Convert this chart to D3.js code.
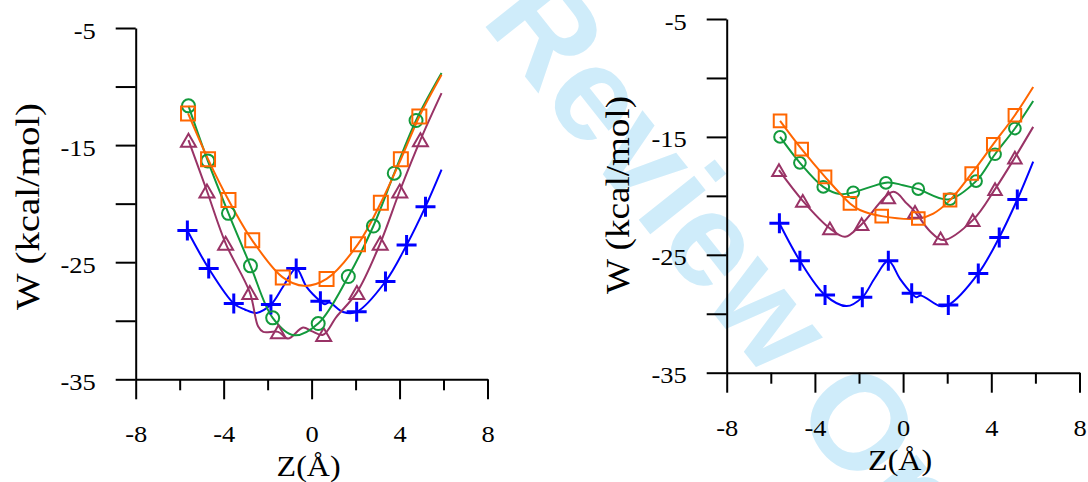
<!DOCTYPE html>
<html><head><meta charset="utf-8">
<script src="https://cdn.jsdelivr.net/npm/d3@7"></script>
<style>html,body{margin:0;padding:0;background:#fff;} svg{display:block;}</style>
</head><body>
<svg id="c" width="1088" height="482"></svg>
<script>
// ---------- data ----------
const zTicks = [-8, -4, 0, 4, 8];
const zMinorTicks = [-6, -2, 2, 6];
const wTicks = [-5, -10, -15, -20, -25, -30, -35];
const wTickLabels = [-5, -15, -25, -35];
const xTitle = "Z(Å)";
const yTitle = "W (kcal/mol)";
const watermark = "Review Only";

// left panel: markers [z, W]
const leftBlueMarkers = [[-5.65,-22.3],[-4.68,-25.53],[-3.54,-28.52],[-1.85,-28.62],[-0.70,-25.53],[0.40,-28.33],[2.05,-29.24],[3.36,-26.65],[4.32,-23.54],[5.18,-20.26]];
const leftGreenMarkers = [[-5.6,-11.65],[-4.72,-16.35],[-3.78,-20.83],[-2.78,-25.31],[-1.77,-29.75],[0.3,-30.24],[1.67,-26.22],[2.81,-21.91],[3.76,-17.4],[4.75,-12.9]];
const leftOrangeMarkers = [[-5.62,-12.3],[-4.71,-16.2],[-3.78,-19.69],[-2.70,-23.13],[-1.31,-26.3],[0.68,-26.43],[2.11,-23.46],[3.15,-19.92],[4.06,-16.21],[4.90,-12.56]];
const leftPurpleMarkers = [[-5.6,-14.58],[-4.76,-18.92],[-3.91,-23.39],[-2.81,-27.58],[-1.51,-30.95],[0.55,-31.18],[2.06,-27.58],[3.12,-23.39],[4.01,-18.92],[4.95,-14.55]];
// left panel: curves [z, W]
const leftBlueCurve = [[-5.65,-22.3],[-4.68,-25.53],[-3.54,-28.52],[-3.04,-29.04],[-2.5,-29.33],[-1.85,-28.62],[-1.3,-27.1],[-0.70,-25.53],[-0.23,-27.1],[0.40,-28.33],[0.6,-28.6],[0.8,-28.45],[1.43,-29.25],[2.05,-29.24],[3.36,-26.65],[4.32,-23.54],[5.18,-20.26],[5.91,-17.1]];
const leftGreenCurve = [[-5.6,-11.65],[-4.72,-16.35],[-3.78,-20.83],[-2.78,-25.31],[-1.77,-29.75],[-0.8,-31.24],[0.3,-30.24],[1.67,-26.22],[2.81,-21.91],[3.76,-17.4],[4.75,-12.9],[5.91,-8.85]];
const leftOrangeCurve = [[-5.62,-12.3],[-4.71,-16.2],[-3.78,-19.69],[-2.70,-23.13],[-1.31,-26.3],[-0.35,-27.02],[0.68,-26.43],[2.11,-23.46],[3.15,-19.92],[4.06,-16.21],[4.90,-12.56],[5.91,-9.0]];
const leftPurpleCurve = [[-5.6,-14.58],[-4.76,-18.92],[-3.91,-23.39],[-2.81,-27.58],[-2.43,-30.5],[-2.2,-30.95],[-1.52,-30.95],[-1.07,-31.52],[-0.39,-30.58],[0.0,-30.89],[0.52,-31.2],[1.13,-29.67],[2.06,-27.58],[3.12,-23.39],[4.01,-18.92],[4.95,-14.55],[5.91,-10.56]];

// right panel: markers [z, W]
const rightBlueMarkers = [[-5.61,-22.33],[-4.68,-25.51],[-3.54,-28.42],[-1.85,-28.61],[-0.67,-25.51],[0.39,-28.27],[2.05,-29.26],[3.41,-26.58],[4.36,-23.53],[5.18,-20.31]];
const rightGreenMarkers = [[-5.58,-15.0],[-4.68,-17.2],[-3.62,-19.24],[-2.26,-19.71],[-0.78,-18.90],[0.69,-19.43],[2.13,-20.28],[3.31,-18.75],[4.17,-16.47],[5.07,-14.29]];
const rightOrangeMarkers = [[-5.58,-13.64],[-4.60,-16.04],[-3.54,-18.39],[-2.41,-20.64],[-0.97,-21.72],[0.69,-21.92],[2.13,-20.36],[3.11,-18.10],[4.09,-15.62],[5.07,-13.16]];
const rightPurpleMarkers = [[-5.63,-17.82],[-4.55,-20.42],[-3.32,-22.76],[-1.88,-22.4],[-0.67,-20.14],[0.54,-21.36],[1.70,-23.61],[3.16,-22.06],[4.17,-19.43],[5.07,-16.75]];
// right panel: curves [z, W]
const rightBlueCurve = [[-5.61,-22.33],[-4.68,-25.51],[-3.54,-28.42],[-2.56,-29.35],[-1.85,-28.61],[-1.28,-26.97],[-0.67,-25.51],[-0.14,-27.04],[0.39,-28.27],[0.6,-28.6],[0.8,-28.45],[1.67,-29.35],[2.05,-29.26],[3.41,-26.58],[4.36,-23.53],[5.18,-20.31],[5.9,-17.09]];
const rightGreenCurve = [[-5.58,-15.0],[-4.68,-17.2],[-3.62,-19.24],[-2.86,-19.85],[-2.26,-19.71],[-0.7,-18.86],[0.0,-19.1],[0.69,-19.43],[2.05,-20.3],[3.31,-18.75],[4.17,-16.47],[5.07,-14.29],[5.9,-11.95]];
const rightOrangeCurve = [[-5.58,-13.64],[-4.60,-16.04],[-3.54,-18.39],[-2.41,-20.64],[-1.96,-21.2],[-0.97,-21.72],[0.69,-21.92],[1.37,-21.5],[2.13,-20.36],[3.11,-18.10],[4.09,-15.62],[5.07,-13.16],[5.9,-10.76]];
const rightPurpleCurve = [[-5.63,-17.82],[-4.55,-20.42],[-3.32,-22.76],[-2.63,-23.47],[-1.88,-22.4],[-0.44,-19.66],[0.16,-20.64],[0.54,-21.36],[1.22,-23.0],[1.82,-23.75],[3.16,-22.06],[4.17,-19.43],[5.07,-16.75],[5.9,-14.15]];

// ---------- style / layout ----------
const colors = {blue:"#0000ff", green:"#129a3c", orange:"#ff6600", purple:"#993366"};
const serif = "'Liberation Serif','Times New Roman',Times,serif";
const svg = d3.select("#c");

// watermark (behind everything)
svg.append("text")
  .attr("transform", "translate(480,20) rotate(51.5)")
  .attr("font-family", "'Liberation Sans',Arial,sans-serif")
  .attr("font-weight", 700)
  .attr("font-size", 134)
  .attr("fill", "#cfecfa")
  .attr("text-anchor", "start")
  .text(watermark);

function stretch(sel, k) {
  sel.each(function() {
    const n = this.getComputedTextLength();
    d3.select(this).attr("textLength", n * k).attr("lengthAdjust", "spacingAndGlyphs");
  });
}

function drawPanel(cfg, series) {
  const x = d3.scaleLinear().domain([-8, 8]).range([cfg.x0, cfg.x1]);
  const y = d3.scaleLinear().domain([-5, -35]).range([cfg.y0, cfg.y1]);
  const g = svg.append("g");

  // y axis
  const ya = g.append("g").attr("transform", `translate(${cfg.x0},0)`)
    .call(d3.axisLeft(y).tickValues(wTicks).tickSize(20).tickSizeOuter(0).tickPadding(20)
      .tickFormat(d => wTickLabels.includes(d) ? String(d) : ""));
  ya.attr("font-family", null).attr("font-size", null);
  ya.select(".domain").attr("stroke", "#000").attr("stroke-width", 2);
  ya.selectAll(".tick line").attr("stroke", "#000").attr("stroke-width", 2);
  ya.selectAll(".tick text").attr("font-family", serif).attr("font-size", 23).attr("fill", "#000")
    .attr("dy", null).attr("y", 10).call(stretch, 1.15);

  // x axis major
  const xa = g.append("g").attr("transform", `translate(0,${cfg.y1})`)
    .call(d3.axisBottom(x).tickValues(zTicks).tickSize(20).tickSizeOuter(0).tickFormat(d => String(d)));
  xa.attr("font-family", null).attr("font-size", null);
  xa.select(".domain").attr("stroke", "#000").attr("stroke-width", 2);
  xa.selectAll(".tick line").attr("stroke", "#000").attr("stroke-width", 2);
  xa.selectAll(".tick text").attr("font-family", serif).attr("font-size", 23).attr("fill", "#000")
    .attr("dy", null).attr("y", 63).call(stretch, 1.15);
  // x axis minor
  const xm = g.append("g").attr("transform", `translate(0,${cfg.y1})`)
    .call(d3.axisBottom(x).tickValues(zMinorTicks).tickSize(11).tickSizeOuter(0).tickFormat(""));
  xm.select(".domain").remove();
  xm.selectAll(".tick line").attr("stroke", "#000").attr("stroke-width", 2);

  // titles
  g.append("text").attr("x", x(0) - 3).attr("y", cfg.xTitleY)
    .attr("text-anchor", "middle").attr("font-family", serif).attr("font-size", 30).attr("fill", "#000")
    .attr("textLength", 64).attr("lengthAdjust", "spacingAndGlyphs").text(xTitle);
  g.append("text").attr("transform", `translate(${cfg.yTitleX},${cfg.yTitleY}) rotate(-90)`)
    .attr("text-anchor", "middle").attr("dominant-baseline", "central")
    .attr("font-family", serif).attr("font-size", 33).attr("fill", "#000")
    .attr("textLength", cfg.yTitleLen).attr("lengthAdjust", "spacingAndGlyphs").text(yTitle);

  // curves
  const line = d3.line().x(d => x(d[0])).y(d => y(d[1])).curve(d3.curveCatmullRom.alpha(0.5));
  series.forEach(s => {
    g.append("path").attr("d", line(s.curve)).attr("fill", "none")
      .attr("stroke", colors[s.color]).attr("stroke-width", 2);
  });
  // markers
  const ms = cfg.markerScale;
  const shapes = {
    plus: `M${-10},0H10M0,${-10}V10`,
    circle: d3.symbol().type(d3.symbolCircle).size(Math.PI * 6.5 * 6.5 * ms * ms)(),
    square: `M${-7*ms},${-7*ms}H${7*ms}V${7*ms}H${-7*ms}Z`,
    triangle: `M0,${-6.5*ms}L${7.5*ms},${6.5*ms}H${-7.5*ms}Z`
  };
  series.forEach(s => {
    g.append("g").selectAll("path").data(s.markers).join("path")
      .attr("transform", d => `translate(${x(d[0])},${y(d[1])})`)
      .attr("d", shapes[s.shape]).attr("fill", "none")
      .attr("stroke", colors[s.color]).attr("stroke-width", s.shape === "plus" ? 3 : 2);
  });
}

drawPanel(
  {x0: 135.7, x1: 487.5, y0: 28.0, y1: 379.3, xTitleY: 476, yTitleX: 27.5, yTitleY: 206.5, yTitleLen: 207, markerScale: 1.0},
  [
    {color: "blue", shape: "plus", curve: leftBlueCurve, markers: leftBlueMarkers},
    {color: "purple", shape: "triangle", curve: leftPurpleCurve, markers: leftPurpleMarkers},
    {color: "green", shape: "circle", curve: leftGreenCurve, markers: leftGreenMarkers},
    {color: "orange", shape: "square", curve: leftOrangeCurve, markers: leftOrangeMarkers}
  ]);
drawPanel(
  {x0: 726.7, x1: 1079.5, y0: 19.0, y1: 372.7, xTitleY: 470, yTitleX: 618, yTitleY: 195, yTitleLen: 198, markerScale: 0.9},
  [
    {color: "blue", shape: "plus", curve: rightBlueCurve, markers: rightBlueMarkers},
    {color: "purple", shape: "triangle", curve: rightPurpleCurve, markers: rightPurpleMarkers},
    {color: "green", shape: "circle", curve: rightGreenCurve, markers: rightGreenMarkers},
    {color: "orange", shape: "square", curve: rightOrangeCurve, markers: rightOrangeMarkers}
  ]);
</script>
</body></html>
